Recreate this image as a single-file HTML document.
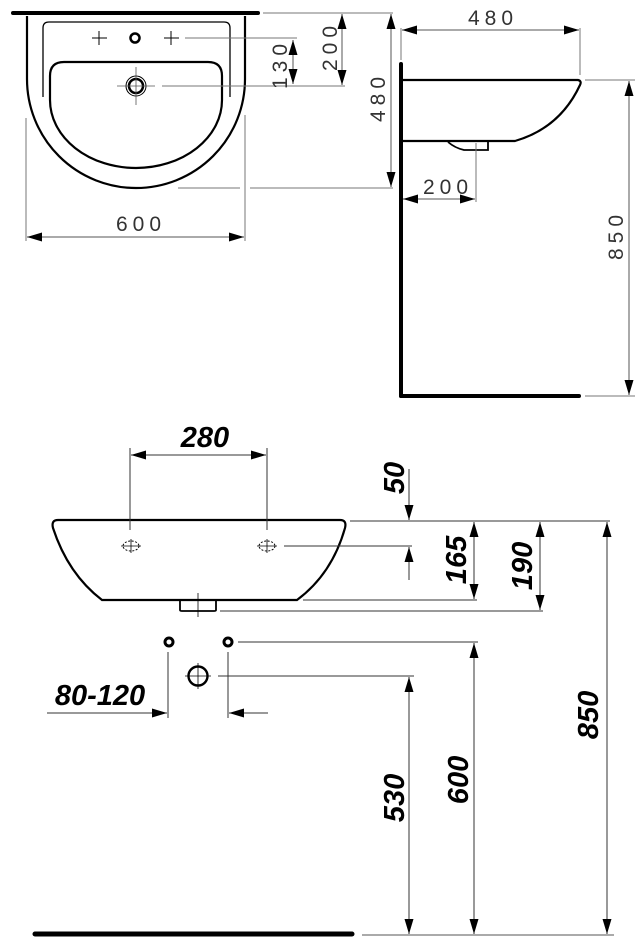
<!DOCTYPE html>
<html><head><meta charset="utf-8"><style>
html,body{margin:0;padding:0;background:#fff}
svg{display:block}
.t{font-family:"Liberation Sans",sans-serif;font-size:21px;fill:#333;letter-spacing:5px}
.b{font-family:"Liberation Sans",sans-serif;font-size:29px;font-weight:bold;font-style:italic;fill:#000}
</style></head><body>
<svg width="644" height="950" viewBox="0 0 644 950" xmlns="http://www.w3.org/2000/svg">
<defs>
<marker id="a" viewBox="0 0 15 9" refX="15" refY="4.5" markerWidth="15" markerHeight="9" markerUnits="userSpaceOnUse" orient="auto-start-reverse"><path d="M0,0 L15,4.5 L0,9z" fill="#000"/></marker>
</defs>
<g fill="none" stroke="#000">
<line x1="13" y1="13" x2="258" y2="13" stroke-width="4" stroke-linecap="round"/>
<path d="M27,16 L27,79 A109,109 0 0 0 245,79 L245,16" stroke-width="2.2"/>
<path d="M43,97 L43,28 Q43,22 49,22 L224,22 Q230,22 230,28 L230,97" stroke-width="1.3"/>
<path d="M50,100 L50,76 Q50,62 64,62 L208,62 Q222,62 222,76 L222,100 A86,68 0 0 1 50,100z" stroke-width="2.2"/>
<g stroke-width="1"><line x1="92" y1="38" x2="107" y2="38"/><line x1="99" y1="31" x2="99" y2="45"/>
<line x1="164" y1="38" x2="179" y2="38"/><line x1="171" y1="31" x2="171" y2="45"/></g>
<circle cx="135" cy="38" r="4.5" stroke-width="2.5"/>
<circle cx="136" cy="86" r="10" stroke-width="1"/>
<circle cx="136" cy="86" r="7" stroke-width="2.5"/>
<g stroke-width="0.8" stroke="#555"><line x1="117" y1="86" x2="155" y2="86"/><line x1="136" y1="67" x2="136" y2="105"/></g>
<g stroke="#777" stroke-width="1">
<line x1="185" y1="38" x2="297" y2="38"/>
<line x1="162" y1="86" x2="345" y2="86"/>
<line x1="263" y1="13" x2="393" y2="13"/>
<line x1="178" y1="188" x2="240" y2="188"/><line x1="250" y1="188" x2="393" y2="188"/>
<line x1="26" y1="118" x2="26" y2="241"/><line x1="245" y1="115" x2="245" y2="241"/>
</g>
<g stroke="#555" stroke-width="1">
<line x1="293" y1="40" x2="293" y2="84" marker-start="url(#a)" marker-end="url(#a)"/>
<line x1="342" y1="14" x2="342" y2="85" marker-start="url(#a)" marker-end="url(#a)"/>
<line x1="391" y1="14" x2="391" y2="187" marker-start="url(#a)" marker-end="url(#a)"/>
<line x1="27" y1="237" x2="244" y2="237" marker-start="url(#a)" marker-end="url(#a)"/>
</g>
<line x1="401" y1="64" x2="401" y2="396" stroke-width="4" stroke-linecap="round"/>
<line x1="401" y1="396" x2="579" y2="396" stroke-width="4" stroke-linecap="round"/>
<path d="M401,80 L578,80 Q582,81 580,85 Q560,128 515,141 L401,141" stroke-width="2.2"/>
<path d="M448,142 Q455,148 464,150 L488,150 L488,142" stroke-width="1.8"/>
<g stroke="#777" stroke-width="1">
<line x1="401" y1="28" x2="401" y2="60"/><line x1="580" y1="28" x2="580" y2="75"/>
<line x1="476" y1="143" x2="476" y2="202"/>
<line x1="585" y1="80" x2="635" y2="80"/><line x1="585" y1="396" x2="635" y2="396"/>
</g>
<g stroke="#555" stroke-width="1">
<line x1="402" y1="30" x2="579" y2="30" marker-start="url(#a)" marker-end="url(#a)"/>
<line x1="403" y1="199" x2="475" y2="199" marker-start="url(#a)" marker-end="url(#a)"/>
<line x1="629" y1="81" x2="629" y2="395" marker-start="url(#a)" marker-end="url(#a)"/>
</g>
<path d="M58,520 L340,520 Q347,520 345,528 Q332,574 297,600 L102,600 Q68,574 53,528 Q51,520 58,520z" stroke-width="2.2"/>
<path d="M180,601 L180,610 Q180,611 182,611 L214,611 Q216,611 216,610 L216,601" stroke-width="1.8"/>
<line x1="198" y1="593" x2="198" y2="617" stroke-width="0.8"/>
<g stroke-width="1" stroke-dasharray="2,1.5"><ellipse cx="131" cy="546" rx="8" ry="5"/><ellipse cx="267" cy="546" rx="8" ry="5"/></g>
<g stroke-width="0.8"><line x1="121" y1="546" x2="141" y2="546"/><line x1="131" y1="539" x2="131" y2="553"/>
<line x1="257" y1="546" x2="277" y2="546"/><line x1="267" y1="539" x2="267" y2="553"/></g>
<circle cx="169" cy="642" r="4" stroke-width="3"/>
<circle cx="228" cy="642" r="4" stroke-width="3"/>
<circle cx="198" cy="676" r="9.5" stroke-width="2.4"/>
<g stroke-width="0.8"><line x1="185" y1="676" x2="211" y2="676"/><line x1="198" y1="663" x2="198" y2="689"/></g>
<g stroke="#333" stroke-width="1">
<line x1="130" y1="448" x2="130" y2="530"/><line x1="267" y1="448" x2="267" y2="530"/>
<line x1="350" y1="521" x2="610" y2="521"/>
<line x1="284" y1="546" x2="412" y2="546"/>
<line x1="303" y1="600" x2="477" y2="600"/>
<line x1="220" y1="611" x2="543" y2="611"/>
<line x1="238" y1="642" x2="478" y2="642"/>
<line x1="218" y1="676" x2="414" y2="676"/>
<line x1="168" y1="652" x2="168" y2="718"/><line x1="228" y1="652" x2="228" y2="718"/>
<line x1="409" y1="469" x2="409" y2="520" marker-end="url(#a)"/>
<line x1="409" y1="580" x2="409" y2="547" marker-end="url(#a)"/>
<line x1="474" y1="522" x2="474" y2="599" marker-start="url(#a)" marker-end="url(#a)"/>
<line x1="540" y1="522" x2="540" y2="610" marker-start="url(#a)" marker-end="url(#a)"/>
<line x1="131" y1="455" x2="266" y2="455" marker-start="url(#a)" marker-end="url(#a)"/>
<line x1="47" y1="713" x2="167" y2="713" marker-end="url(#a)"/>
<line x1="268" y1="713" x2="229" y2="713" marker-end="url(#a)"/>
<line x1="409" y1="677" x2="409" y2="934" marker-start="url(#a)" marker-end="url(#a)"/>
<line x1="474" y1="643" x2="474" y2="934" marker-start="url(#a)" marker-end="url(#a)"/>
<line x1="607" y1="522" x2="607" y2="934" marker-start="url(#a)" marker-end="url(#a)"/>
</g>
<line x1="35" y1="934" x2="352" y2="934" stroke-width="5" stroke-linecap="round"/>
<line x1="362" y1="935" x2="614" y2="935" stroke="#777" stroke-width="1.2"/>
</g>
<text class="t" x="141" y="231" text-anchor="middle">600</text>
<text class="t" x="493" y="25" text-anchor="middle">480</text>
<text class="t" x="448" y="194" text-anchor="middle">200</text>
<text class="t" transform="translate(287,64) rotate(-90)" text-anchor="middle">130</text>
<text class="t" transform="translate(337,46) rotate(-90)" text-anchor="middle">200</text>
<text class="t" transform="translate(385,97) rotate(-90)" text-anchor="middle">480</text>
<text class="t" transform="translate(623,235) rotate(-90)" text-anchor="middle">850</text>
<text class="b" x="205" y="447" text-anchor="middle">280</text>
<text class="b" x="100" y="705" text-anchor="middle">80-120</text>
<text class="b" transform="translate(404,478) rotate(-90)" text-anchor="middle">50</text>
<text class="b" transform="translate(466,560) rotate(-90)" text-anchor="middle">165</text>
<text class="b" transform="translate(532,566) rotate(-90)" text-anchor="middle">190</text>
<text class="b" transform="translate(404,798) rotate(-90)" text-anchor="middle">530</text>
<text class="b" transform="translate(468,780) rotate(-90)" text-anchor="middle">600</text>
<text class="b" transform="translate(598,715) rotate(-90)" text-anchor="middle">850</text>
</svg>
</body></html>
